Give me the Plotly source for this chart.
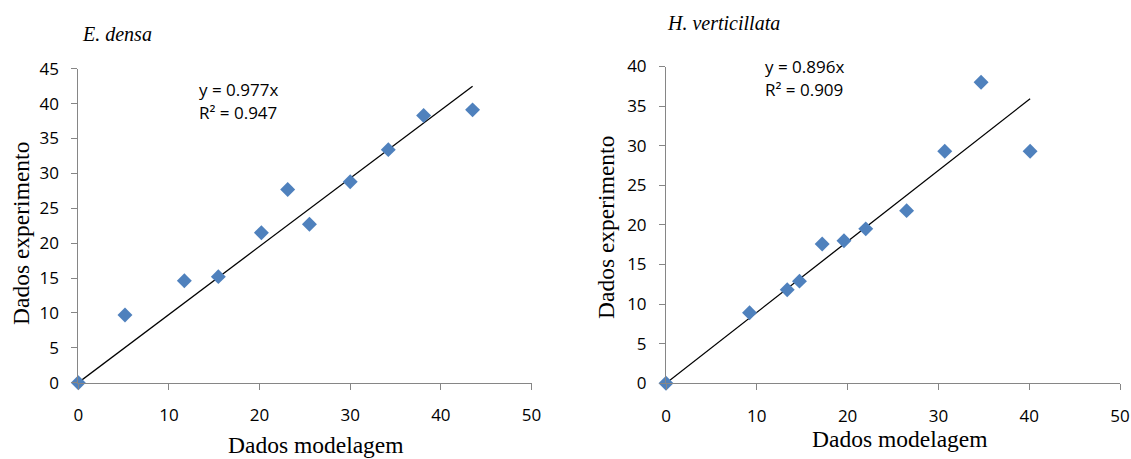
import plotly.graph_objects as go

W, H = 1131, 459

# Data: E. densa
dens_model = [0, 5.15, 11.7, 15.45, 20.2, 23.1, 25.5, 30.0, 34.2, 38.1, 43.5]
dens_exp = [0, 9.7, 14.6, 15.2, 21.5, 27.7, 22.7, 28.8, 33.4, 38.3, 39.1]
dens_slope = 0.977
dens_r2 = 0.947

# Data: H. verticillata
hv_model = [0, 9.2, 13.35, 14.7, 17.2, 19.6, 22.0, 26.5, 30.7, 34.7, 40.1]
hv_exp = [0, 8.9, 11.8, 12.9, 17.6, 18.0, 19.5, 21.8, 29.3, 38.0, 29.3]
hv_slope = 0.896
hv_r2 = 0.909

x_ticks = [0, 10, 20, 30, 40, 50]
y_ticks_left = [0, 5, 10, 15, 20, 25, 30, 35, 40, 45]
y_ticks_right = [0, 5, 10, 15, 20, 25, 30, 35, 40]

BLUE = "#4F81BD"
AX = "#868686"
SANS = "Open Sans, Liberation Sans, sans-serif"
TICKFONT = dict(family=SANS, size=17, color="#000")
SERIF = "Liberation Serif, Times New Roman, serif"


def px(x):
    return x / W


def py(y):
    return 1 - y / H


fig = go.Figure()

for xs, ys, slope, xa, ya in [
    (dens_model, dens_exp, dens_slope, "x", "y"),
    (hv_model, hv_exp, hv_slope, "x2", "y2"),
]:
    xmax = max(xs)
    fig.add_trace(go.Scatter(x=[0, xmax], y=[0, slope * xmax], mode="lines",
                             line=dict(color="#000", width=1.3), xaxis=xa, yaxis=ya,
                             showlegend=False, hoverinfo="skip", cliponaxis=False))
    fig.add_trace(go.Scatter(x=xs, y=ys, mode="markers",
                             marker=dict(symbol="diamond", size=11.5, color=BLUE,
                                         line=dict(width=0)),
                             xaxis=xa, yaxis=ya, showlegend=False, cliponaxis=False))

common_x = dict(range=[0, 50], tickvals=x_ticks, showgrid=False, zeroline=False,
                showline=True, linecolor=AX, linewidth=1, ticks="outside",
                tickcolor=AX, ticklen=6, tickfont=TICKFONT, ticklabelstandoff=11,
                automargin=False)
common_y = dict(showgrid=False, zeroline=False, showline=True, linecolor=AX,
                linewidth=1, ticks="outside", tickcolor=AX, ticklen=6,
                tickfont=TICKFONT, ticklabelstandoff=9, automargin=False)

fig.update_layout(
    width=W, height=H,
    margin=dict(l=0, r=0, t=0, b=0),
    paper_bgcolor="white", plot_bgcolor="white",
    xaxis=dict(domain=[px(78.3), px(531.5)], anchor="y", **common_x),
    yaxis=dict(domain=[py(382.7), py(68.7)], range=[0, 45], tickvals=y_ticks_left,
               anchor="x", **common_y),
    xaxis2=dict(domain=[px(666), px(1120)], anchor="y2", **common_x),
    yaxis2=dict(domain=[py(383.3), py(66.5)], range=[0, 40], tickvals=y_ticks_right,
                anchor="x2", **common_y),
)

ann = []


def text(x, y, s, size, family, italic=False, angle=0, xanchor="center"):
    ann.append(dict(x=px(x), y=py(y), xref="paper", yref="paper", text=s,
                    showarrow=False, xanchor=xanchor, yanchor="middle",
                    textangle=angle,
                    font=dict(size=size, family=family, color="#000",
                              style="italic" if italic else "normal")))


# panel titles
text(80, 34, "E. densa", 20, SERIF, italic=True, xanchor="left")
text(665, 23, "H. verticillata", 20, SERIF, italic=True, xanchor="left")
# equations
text(197, 90, f"y = {dens_slope:.3f}x", 17, SANS, xanchor="left")
text(197, 113, f"R² = {dens_r2:.3f}", 17, SANS, xanchor="left")
text(763, 67, f"y = {hv_slope:.3f}x", 17, SANS, xanchor="left")
text(763, 89, f"R² = {hv_r2:.3f}", 17, SANS, xanchor="left")
# axis titles
text(316, 445, "Dados modelagem", 23.5, SERIF)
text(900, 439, "Dados modelagem", 23.5, SERIF)
text(21, 234, "Dados experimento", 23.5, SERIF, angle=-90)
text(606, 228, "Dados experimento", 23.5, SERIF, angle=-90)

fig.update_layout(annotations=ann)
fig.write_html("out.html")
